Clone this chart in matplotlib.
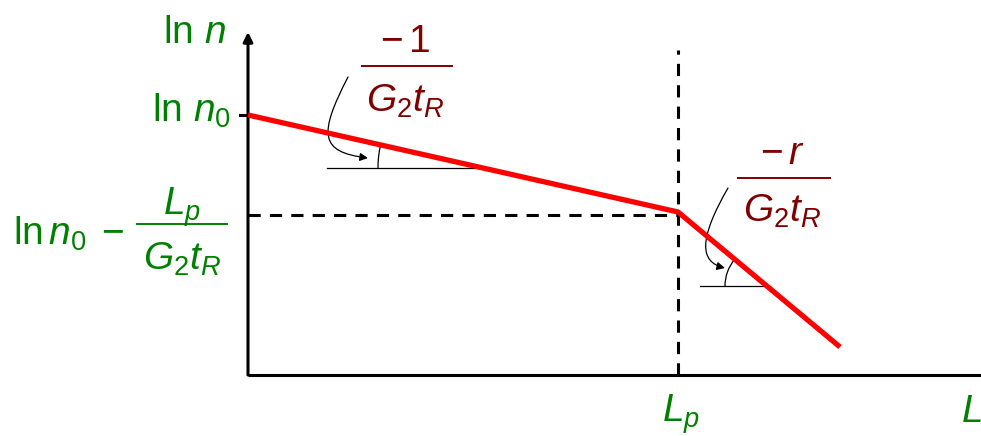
import numpy as np
import matplotlib.pyplot as plt
from matplotlib.patches import Arc, FancyArrowPatch
from matplotlib.path import Path

plt.rcParams['mathtext.fontset'] = 'custom'
plt.rcParams['mathtext.rm'] = 'Liberation Sans'
plt.rcParams['mathtext.it'] = 'Liberation Sans:italic'
plt.rcParams['mathtext.bf'] = 'Liberation Sans:bold'
plt.rcParams['font.family'] = 'Liberation Sans'

# schematic growth curve: ln n versus L (arbitrary units)
L_pts = [0.0, 4.30, 5.92]
lnn_pts = [2.60, 1.63, 0.28]
L_p = L_pts[1]
lnn_p = 1.60
L_max = 7.33
lnn_top = 3.43

green = '#008000'
darkred = '#800000'
fs = 28

fig = plt.figure(figsize=(9.81, 4.36), dpi=100)
ax = fig.add_axes([0, 0, 1, 1])
ax.set_xlim(-2.48, 7.33)
ax.set_ylim(-0.61, 3.75)
ax.set_aspect('equal')
ax.axis('off')

# axes
ax.plot([0, L_max], [0, 0], color='black', lw=2.2, solid_capstyle='butt')
ax.annotate('', xy=(0, lnn_top), xytext=(0, 0),
            arrowprops=dict(arrowstyle='-|>', lw=2.2, color='black',
                            mutation_scale=14, shrinkA=0, shrinkB=0))
ax.plot([-0.08, 0], [lnn_pts[0], lnn_pts[0]], color='black', lw=2.2)

# guide lines through the break point
ax.plot([0, L_p], [lnn_p, lnn_p], color='black', lw=2.2, ls=(0, (4, 3)))
ax.plot([L_p, L_p], [0, 3.25], color='black', lw=2.2, ls=(0, (4, 3)))

# the curve
ax.plot(L_pts, lnn_pts, color='red', lw=3.8, solid_capstyle='butt', zorder=5)


# slope markers: short horizontal line plus angle arc
def slope_mark(x0, x1, i, r):
    xa, ya = L_pts[i], lnn_pts[i]
    xb, yb = L_pts[i + 1], lnn_pts[i + 1]
    y = ya + (yb - ya) * (x1 - xa) / (xb - xa)
    ax.plot([x0, x1], [y, y], color='black', lw=0.9)
    ang = np.degrees(np.arctan2(ya - yb, xb - xa))
    ax.add_patch(Arc((x1, y), 2 * r, 2 * r, theta1=180 - ang, theta2=180,
                     color='black', lw=0.9))


slope_mark(0.79, 2.35, 0, 1.05)
slope_mark(4.52, 5.19, 1, 0.42)

# curved pointers from the slope labels
for pts in ([(1.00, 2.98), (0.70, 2.40), (0.72, 2.23), (1.20, 2.17)],
            [(4.80, 1.87), (4.50, 1.35), (4.52, 1.13), (4.77, 1.07)]):
    path = Path(pts, [Path.MOVETO, Path.CURVE4, Path.CURVE4, Path.CURVE4])
    ax.add_patch(FancyArrowPatch(path=path, arrowstyle='-|>', lw=0.9,
                                 color='black', mutation_scale=12))


def frac(xc, ybar, x0, x1, num, den, color, dnum=0.14, dden=0.46):
    ax.plot([x0, x1], [ybar, ybar], color=color, lw=1.4)
    ax.text(xc, ybar + dnum, num, color=color, fontsize=fs,
            ha='center', va='baseline')
    ax.text(xc, ybar - dden, den, color=color, fontsize=fs,
            ha='center', va='baseline')


ax.text(-0.85, 3.32, r'$\ln\,n$', color=green, fontsize=fs, ha='left', va='baseline')
ax.text(-0.17, 2.53, r'$\ln\,n_{\mathit{0}}$', color=green, fontsize=fs,
        ha='right', va='baseline')

ax.text(-2.35, 1.30, r'$\ln n_0\;-$', color=green, fontsize=fs, ha='left', va='baseline')
frac(-0.66, 1.51, -1.11, -0.21, r'$L_p$', r'$G_2 t_R$', green, dnum=0.09, dden=0.46)

frac(1.57, 3.09, 1.14, 2.04, r'$-\,1$', r'$G_2 t_R$', darkred, dnum=0.14, dden=0.46)
frac(5.34, 1.97, 4.90, 5.82, r'$-\,r$', r'$G_2 t_R$', darkred, dnum=0.14, dden=0.44)

ax.text(4.33, -0.47, r'$L_p$', color=green, fontsize=fs, ha='center', va='baseline')
ax.text(7.13, -0.47, r'$L$', color=green, fontsize=fs, ha='left', va='baseline')

fig.savefig('out.png', dpi=100)
